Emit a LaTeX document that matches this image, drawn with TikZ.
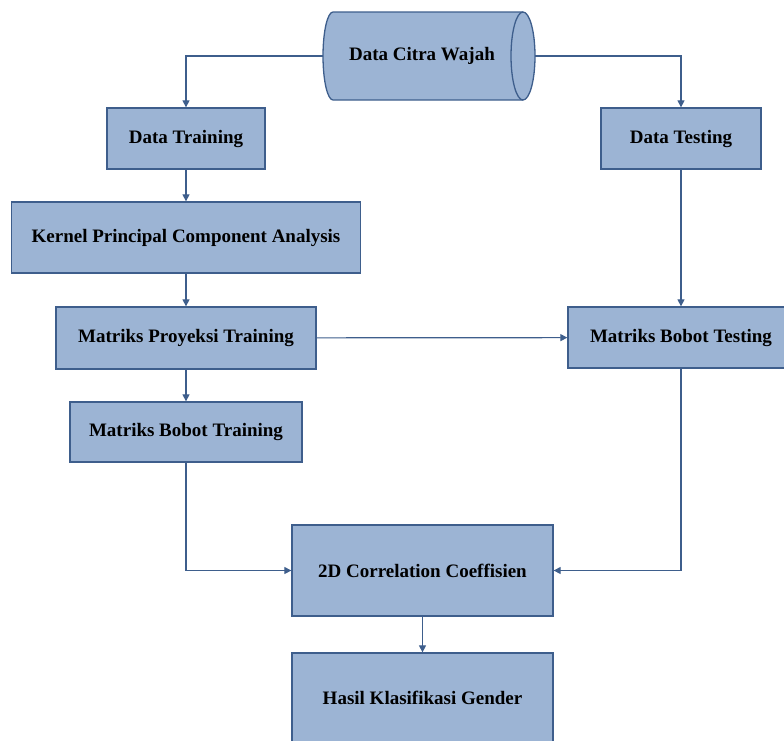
\documentclass[tikz,border=0pt]{standalone}
\usepackage{fontspec}
\setmainfont{Liberation Serif}
\usetikzlibrary{arrows.meta}
\definecolor{boxfill}{RGB}{156,180,212}
\definecolor{boxline}{RGB}{62,94,140}
\begin{document}
\begin{tikzpicture}[x=1pt,y=-1pt,
  box/.style={draw=boxline,fill=boxfill,line width=1.3pt,inner sep=0pt,
    font=\fontsize{19}{22}\selectfont\bfseries,text=black},
  lbl/.style={inner sep=0pt,font=\fontsize{19}{22}\selectfont\bfseries,text=black},
  conn/.style={draw=boxline,line width=1.2pt,-{Triangle[length=7pt,width=7pt]}}]
\useasboundingbox (0,0) rectangle (784,740);
% cylinder
\filldraw[draw=boxline,fill=boxfill,line width=1.3pt]
  (333,12) -- (523,12) arc[start angle=-90,end angle=90,x radius=12,y radius=44]
  -- (333,100) arc[start angle=90,end angle=270,x radius=10,y radius=44] -- cycle;
\draw[boxline,line width=1.3pt] (523,12) arc[start angle=-90,end angle=-270,x radius=12,y radius=44];
\node[lbl] (cyl) at (422,56) {Data Citra Wajah};
\coordinate (cylw) at (323,56);
\coordinate (cyle) at (535,56);
\node[box,minimum width=158pt,minimum height=61pt] (dtr) at (186,138.5) {Data Training};
\node[box,minimum width=160pt,minimum height=61pt] (dte) at (681,138.5) {Data Testing};
\node[box,minimum width=349pt,minimum height=71pt] (kpca) at (186,237.5) {Kernel Principal Component Analysis};
\node[box,minimum width=260pt,minimum height=62pt] (mpt) at (186,338) {Matriks Proyeksi Training};
\node[box,minimum width=226pt,minimum height=61pt] (mbte) at (681,337.5) {Matriks Bobot Testing};
\node[box,minimum width=232pt,minimum height=60pt] (mbtr) at (186,432) {Matriks Bobot Training};
\node[box,minimum width=261pt,minimum height=91pt] (cc) at (422.5,570.5) {2D Correlation Coeffisien};
\node[box,minimum width=261pt,minimum height=90pt] (hasil) at (422.5,698) {Hasil Klasifikasi Gender};
\draw[conn] (cylw) -| (dtr.north);
\draw[conn] (cyle) -| (dte.north);
\draw[conn] (dtr) -- (kpca);
\draw[conn] (kpca) -- (mpt);
\draw[conn] (mpt) -- (mbtr);
\draw[conn] (dte) -- (mbte);
\draw[conn] (mpt) -- (mbte);
\draw[conn] (mbtr.south) |- (cc.west);
\draw[conn] (mbte.south) |- (cc.east);
\draw[conn] (cc) -- (hasil);
\end{tikzpicture}
\end{document}
